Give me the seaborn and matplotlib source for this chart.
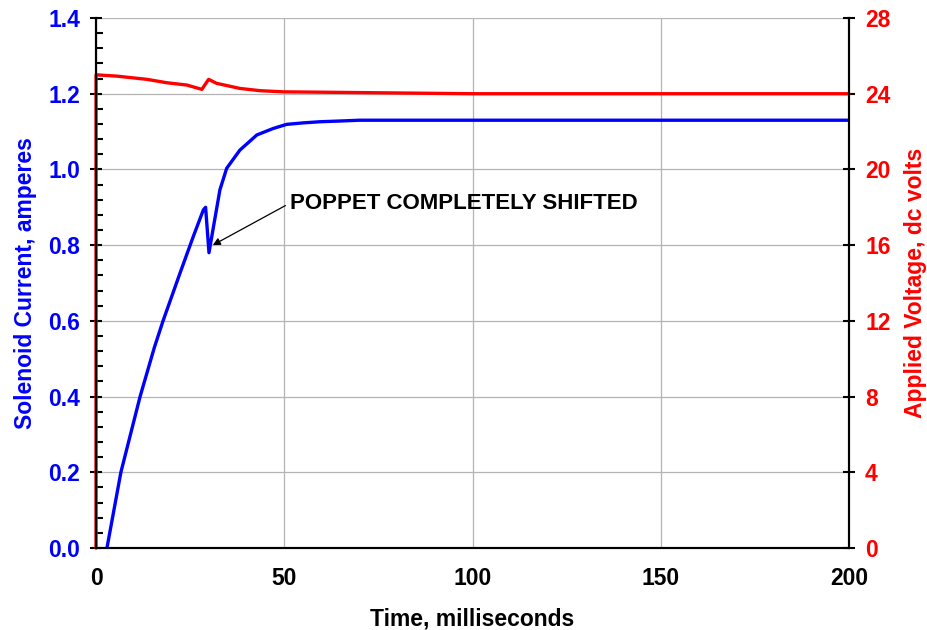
import numpy as np
import pandas as pd
import matplotlib.pyplot as plt
from matplotlib.ticker import MultipleLocator
import seaborn as sns

# solenoid current trace (ms, amperes)
t_current = [2.9, 6.6, 11.7, 15.5, 17.8, 22.3, 25.8, 28.5, 29.1, 30.0, 31.2, 32.9,
             34.7, 38.2, 42.7, 47.0, 50.6, 55.0, 59.5, 65.0, 70.0, 100.0, 150.0, 200.0]
amps = [0.0, 0.2, 0.4, 0.53, 0.6, 0.726, 0.822, 0.893, 0.90, 0.78, 0.849, 0.946,
        1.003, 1.051, 1.091, 1.108, 1.119, 1.123, 1.126, 1.128, 1.13, 1.13, 1.13, 1.13]

# applied voltage trace (ms, volts)
t_voltage = [0.0, 0.0, 5.5, 13.5, 18.8, 24.1, 28.1, 29.9, 32.0, 38.2, 43.6, 49.7,
             60.0, 75.0, 90.0, 100.0, 150.0, 200.0]
volts = [0.0, 25.0, 24.93, 24.76, 24.58, 24.46, 24.23, 24.76, 24.55, 24.28, 24.16, 24.1,
         24.08, 24.05, 24.02, 24.0, 24.0, 24.0]

cur = pd.DataFrame({'t': t_current, 'a': amps})
volt = pd.DataFrame({'t': t_voltage, 'v': volts})

sns.set_style("white")
plt.rcParams['font.family'] = ['Liberation Sans', 'DejaVu Sans']
plt.rcParams['font.weight'] = 'bold'
plt.rcParams['text.color'] = 'black'
plt.rcParams['axes.labelcolor'] = 'black'
plt.rcParams['xtick.color'] = 'black'
plt.rcParams['ytick.color'] = 'black'

fig = plt.figure(figsize=(9.27, 6.3), dpi=100)
ax = fig.add_axes([0.1036, 0.1302, 0.8123, 0.8412])
ax2 = ax.twinx()

sns.lineplot(data=cur, x='t', y='a', ax=ax, color='#0000ff', linewidth=2.4,
             sort=False, estimator=None, zorder=3)
sns.lineplot(data=volt, x='t', y='v', ax=ax2, color='#ff0000', linewidth=2.4,
             sort=False, estimator=None, clip_on=False)

ax.set_xlim(0, 200)
ax.set_ylim(0, 1.4)
ax2.set_ylim(0, 28)
ax.xaxis.set_major_locator(MultipleLocator(50))
ax.xaxis.set_minor_locator(MultipleLocator(10))
ax.yaxis.set_major_locator(MultipleLocator(0.2))
ax.yaxis.set_minor_locator(MultipleLocator(0.04))
ax2.yaxis.set_major_locator(MultipleLocator(4))

ax.grid(True, which='major', color='#b4b4b4', linewidth=0.9)
ax.set_axisbelow(True)

for a in (ax, ax2):
    for s in a.spines.values():
        s.set_linewidth(1.5)
        s.set_color('black')
    a.spines['top'].set_visible(False)

ax.tick_params(axis='both', which='major', direction='inout', length=9, width=1.5,
               labelsize=16.5, pad=6)
ax.tick_params(axis='both', which='minor', direction='in', length=5, width=1.5)
ax.tick_params(axis='y', labelcolor='#0000ff', pad=7)
ax.tick_params(axis='x', pad=9)
ax2.tick_params(axis='y', which='major', direction='inout', length=9, width=1.5,
                labelsize=16.5, labelcolor='#ff0000', pad=7)
ax.yaxis.set_major_formatter(plt.FormatStrFormatter('%.1f'))

ax.set_xlabel('Time, milliseconds', fontsize=16.5, fontweight='bold', labelpad=13)
ax.set_ylabel('Solenoid Current, amperes', fontsize=16.5, fontweight='bold', color='#0000ff',
              labelpad=8)
ax2.set_ylabel('Applied Voltage, dc volts', fontsize=16.5, fontweight='bold', color='#ff0000',
               labelpad=10)

ax.annotate('POPPET COMPLETELY SHIFTED', xy=(31.0, 0.80), xytext=(51.5, 0.911),
            fontsize=16, fontweight='bold', va='center', ha='left',
            arrowprops=dict(arrowstyle='-|>', color='black', lw=0.9, mutation_scale=11,
                            relpos=(0, 0.5), shrinkA=1, shrinkB=0))

fig.savefig('out.png', dpi=100)
